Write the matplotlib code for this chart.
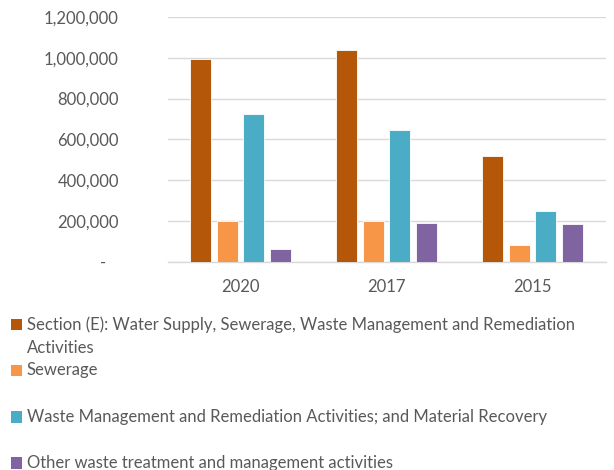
import matplotlib
matplotlib.use("Agg")
import matplotlib.pyplot as plt
import numpy as np
from matplotlib.patches import Rectangle
from matplotlib.ticker import FuncFormatter

# Values
years = ["2020", "2017", "2015"]
section_e = [992000, 1037000, 516000]
sewerage = [201000, 197000, 80000]
waste_mgmt = [722000, 643000, 247000]
other_waste = [59000, 190000, 184000]

series_names = [
    "Section (E): Water Supply, Sewerage, Waste Management and Remediation\nActivities",
    "Sewerage",
    "Waste Management and Remediation Activities; and Material Recovery",
    "Other waste treatment and management activities",
]
colors = ["#B55708", "#F79646", "#4BACC6", "#8064A2"]

plt.rcParams["font.family"] = ["Lato", "DejaVu Sans"]
text_color = "#595959"

W, H = 614, 470
fig = plt.figure(figsize=(W / 100, H / 100), dpi=100)
ax = fig.add_axes([167.5 / W, 1 - 261.5 / H, (605.5 - 167.5) / W, (261.5 - 17) / H])

x = np.arange(len(years))
slot = 0.1815
width = 0.146
for i, (vals, c) in enumerate(zip([section_e, sewerage, waste_mgmt, other_waste], colors)):
    ax.bar(x + (i - 1.5) * slot, vals, width, color=c, edgecolor="white",
           linewidth=0.6, zorder=3)

ax.set_xlim(-0.5, len(years) - 0.5)
ax.set_ylim(0, 1200000)
ax.set_xticks(x)
ax.set_xticklabels(years)
ax.set_yticks(range(0, 1200001, 200000))
ax.yaxis.set_major_formatter(FuncFormatter(lambda v, p: "-   " if v == 0 else f"{v:,.0f}"))

ax.grid(axis="y", color="#D9D9D9", linewidth=1.0, zorder=0)
ax.set_axisbelow(True)
for s in ["top", "left", "right"]:
    ax.spines[s].set_visible(False)
ax.spines["bottom"].set_color("#D9D9D9")
ax.spines["bottom"].set_linewidth(1.0)

ax.tick_params(length=0, colors=text_color, labelsize=12)
ax.tick_params(axis="y", pad=35)
ax.tick_params(axis="x", pad=12.5)

# legend drawn by hand, Excel style (uneven spacing)
legend_y = [324.5, 370.5, 417, 463]
line_gap = 23.7
sq = 11.5
for name, c, yc in zip(series_names, colors, legend_y):
    fig.add_artist(Rectangle((10.7 / W, 1 - (yc + sq / 2) / H), sq / W, sq / H,
                             transform=fig.transFigure, color=c, lw=0))
    for j, line in enumerate(name.split("\n")):
        fig.text(26.7 / W, 1 - (yc + j * line_gap) / H, line, ha="left", va="center",
                 fontsize=12.0, color=text_color)

fig.savefig("out.png", dpi=100)
